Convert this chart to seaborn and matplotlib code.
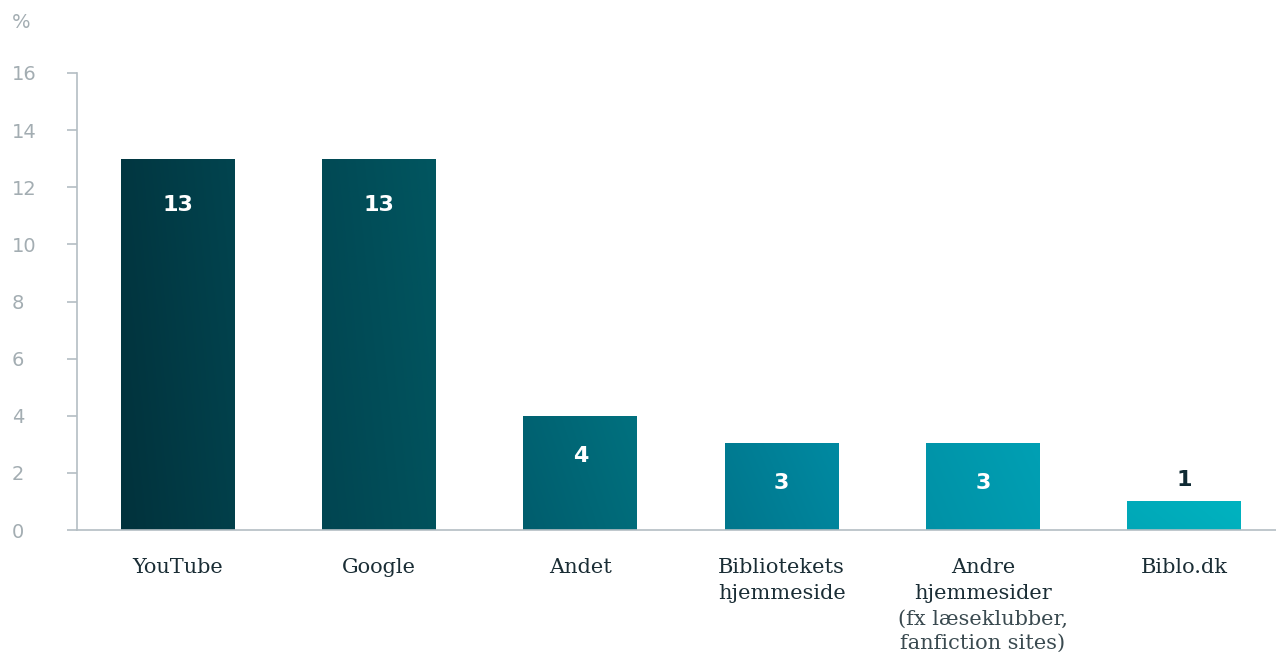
import numpy as np
import pandas as pd
import matplotlib
matplotlib.use("Agg")
import matplotlib.pyplot as plt
import matplotlib.transforms as mtrans
from matplotlib.colors import LinearSegmentedColormap
import seaborn as sns

categories = ["YouTube", "Google", "Andet", "Bibliotekets\nhjemmeside", "Andre\nhjemmesider", "Biblo.dk"]
values = [13, 13, 4, 3.05, 3.05, 1.02]
value_labels = ["13", "13", "4", "3", "3", "1"]
sub_note = "(fx læseklubber,\nfanfiction sites)"
yticks = [0, 2, 4, 6, 8, 10, 12, 14, 16]

grad_left = ["#01323c", "#014551", "#005d6d", "#00768c", "#0091a6", "#00a7b7"]
grad_right = ["#02444f", "#015660", "#00717f", "#008aa2", "#00a0b4", "#00b3c0"]

sns.set_theme(style="white")
plt.rcParams['font.family'] = ['DejaVu Sans']

df = pd.DataFrame({"cat": categories, "val": values})

fig = plt.figure(figsize=(12.76, 6.52), dpi=100)
ax = fig.add_axes([77/1276, 122/652, 1208/1276, 457/652])

sns.barplot(data=df, x="cat", y="val", ax=ax, width=0.565, color="#005060",
            saturation=1, edgecolor="none", linewidth=0)

# gradient fills
for i, p in enumerate(ax.patches):
    x0, y0 = p.get_x(), p.get_y()
    w, h = p.get_width(), p.get_height()
    cmap = LinearSegmentedColormap.from_list("g", [grad_left[i], grad_right[i]])
    xx, yy = np.meshgrid(np.linspace(0, 1, 100), np.linspace(0, 1, 100))
    grad = 0.75 * xx + 0.25 * yy
    im = ax.imshow(grad, extent=[x0, x0 + w, y0, y0 + h], origin="lower",
                   aspect="auto", cmap=cmap, zorder=p.get_zorder() + 0.1)
    im.set_clip_path(p)

ax.set_xlim(-0.5, len(categories) - 0.5)
ax.set_ylim(0, 16)

# value labels
for i, (v, lab) in enumerate(zip(values, value_labels)):
    if v > 2:
        off = -33 if v > 8 else -29
        ax.annotate(lab, (i, v), xytext=(0, off), textcoords="offset points",
                    ha="center", va="center", color="white", fontsize=16,
                    fontweight="bold", zorder=5)
    else:
        ax.annotate(lab, (i, v), xytext=(0, 15), textcoords="offset points",
                    ha="center", va="center", color="#0f2a33", fontsize=16,
                    fontweight="bold", zorder=5)

spine_col = "#b4bec3"
for s in ["top", "right"]:
    ax.spines[s].set_visible(False)
for s in ["left", "bottom"]:
    ax.spines[s].set_color(spine_col)
    ax.spines[s].set_linewidth(1.2)

ax.set_yticks(yticks)
ax.set_yticklabels([str(t) for t in yticks], color="#a3adb2", fontsize=14)
ax.tick_params(axis="y", length=7, color=spine_col, width=1.2, left=True, pad=0)
ytrans = mtrans.blended_transform_factory(fig.transFigure, ax.transData)
for lbl in ax.get_yticklabels():
    lbl.set_horizontalalignment("left")
    lbl.set_transform(ytrans)
    lbl.set_position((12/1276, lbl.get_position()[1]))

ax.set_xticks(np.arange(len(categories)))
ax.set_xticklabels(categories, fontsize=15, color="#1a2d35", family="DejaVu Serif",
                   linespacing=1.5)
ax.tick_params(axis="x", length=0, pad=20)

# boundary ticks on x axis
ax.set_xticks(np.arange(-0.5, len(categories), 1.0), minor=True)
ax.tick_params(axis="x", which="minor", length=10, color=spine_col, width=1.2, direction="out")

ax.set_xlabel("")
ax.set_ylabel("")
ax.grid(False)

ax.text(4, -0.175, sub_note, transform=mtrans.blended_transform_factory(ax.transData, ax.transAxes),
        ha="center", va="top", fontsize=15, color="#3a4a50", family="DejaVu Serif",
        fontweight="light", linespacing=1.3)

fig.text(12/1276, 1 - 22/652, "%", color="#a3adb2", fontsize=14, va="center", ha="left")

fig.savefig("out.png", dpi=100, facecolor="white")
